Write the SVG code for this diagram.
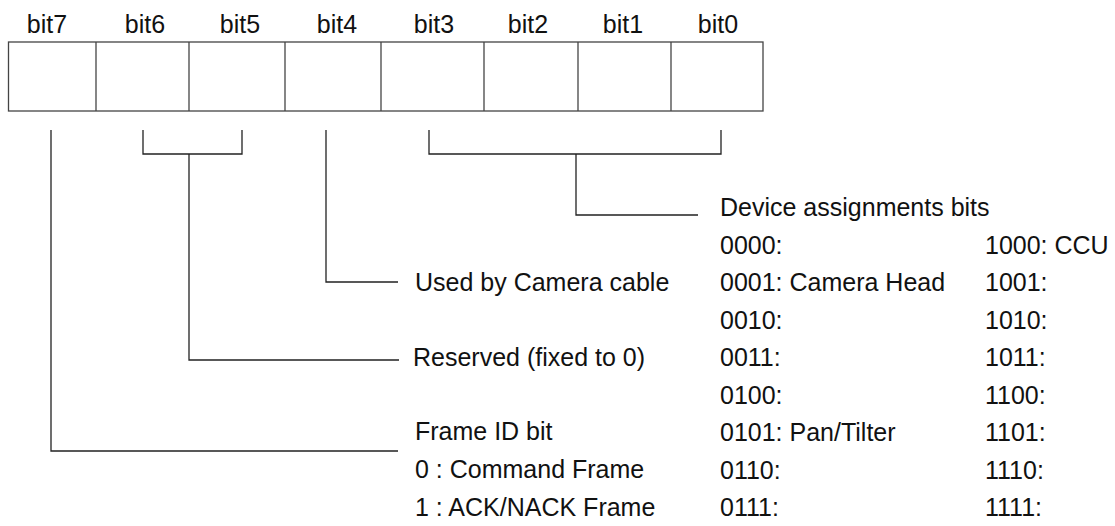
<svg xmlns="http://www.w3.org/2000/svg" width="1115" height="526" viewBox="0 0 1115 526">
  <style>
    text { font-family: "Liberation Sans", Arial, sans-serif; font-size: 25px; fill: #111; }
    .hdr { text-anchor: middle; }
    .cell { fill: #fff; stroke: #444; stroke-width: 1.3; }
    .wire { fill: none; stroke: #222; stroke-width: 1.3; }
  </style>

  <!-- register: eight bit cells with their headings -->
  <g id="register">
    <rect class="cell" x="8.5" y="42" width="754.5" height="69"/>
    <g class="wire" style="stroke:#444">
      <line x1="96" y1="42" x2="96" y2="111"/>
      <line x1="189" y1="42" x2="189" y2="111"/>
      <line x1="285" y1="42" x2="285" y2="111"/>
      <line x1="381" y1="42" x2="381" y2="111"/>
      <line x1="484" y1="42" x2="484" y2="111"/>
      <line x1="578" y1="42" x2="578" y2="111"/>
      <line x1="671" y1="42" x2="671" y2="111"/>
    </g>
    <text class="hdr" x="47" y="33">bit7</text>
    <text class="hdr" x="145" y="33">bit6</text>
    <text class="hdr" x="240" y="33">bit5</text>
    <text class="hdr" x="337" y="33">bit4</text>
    <text class="hdr" x="434" y="33">bit3</text>
    <text class="hdr" x="528" y="33">bit2</text>
    <text class="hdr" x="623" y="33">bit1</text>
    <text class="hdr" x="718" y="33">bit0</text>
  </g>

  <!-- leader lines from the bit fields to their descriptions -->
  <g id="connectors" class="wire">
    <!-- bit7 -->
    <polyline points="51,130 51,451 398,451"/>
    <!-- bit6..bit5 bracket -->
    <polyline points="143,130 143,154 242,154 242,130"/>
    <polyline points="189,154 189,360 399,360"/>
    <!-- bit4 -->
    <polyline points="326,130 326,282 398,282"/>
    <!-- bit3..bit0 bracket -->
    <polyline points="429,130 429,154 721,154 721,130"/>
    <polyline points="576,154 576,215 698,215"/>
  </g>

  <g id="camera-cable">
    <text x="415" y="291">Used by Camera cable</text>
  </g>

  <g id="reserved">
    <text x="413" y="366">Reserved (fixed to 0)</text>
  </g>

  <g id="frame-id">
    <text x="415" y="440">Frame ID bit</text>
    <text x="415" y="478">0 : Command Frame</text>
    <text x="415" y="516">1 : ACK/NACK Frame</text>
  </g>

  <g id="device-assignments">
    <text x="720" y="216">Device assignments bits</text>
    <text x="720" y="253.5">0000:</text>
    <text x="720" y="291">0001: Camera Head</text>
    <text x="720" y="328.5">0010:</text>
    <text x="720" y="366">0011:</text>
    <text x="720" y="403.5">0100:</text>
    <text x="720" y="441">0101: Pan/Tilter</text>
    <text x="720" y="478.5">0110:</text>
    <text x="720" y="516">0111:</text>
    <text x="985" y="253.5">1000: CCU</text>
    <text x="985" y="291">1001:</text>
    <text x="985" y="328.5">1010:</text>
    <text x="985" y="366">1011:</text>
    <text x="985" y="403.5">1100:</text>
    <text x="985" y="441">1101:</text>
    <text x="985" y="478.5">1110:</text>
    <text x="985" y="516">1111:</text>
  </g>
</svg>
